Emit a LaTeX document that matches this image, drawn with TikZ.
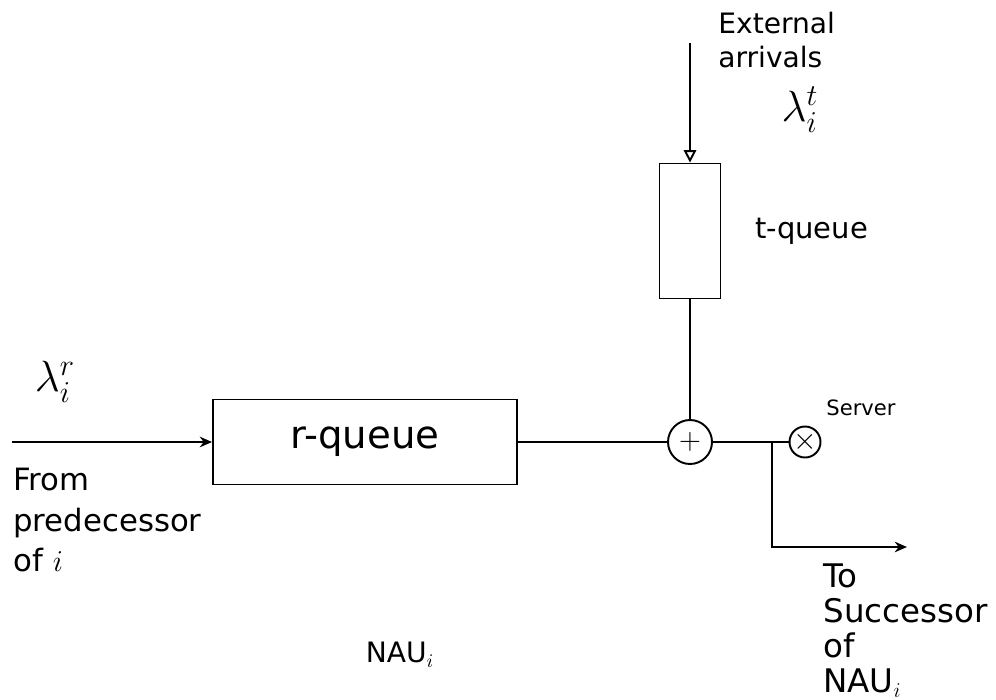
\documentclass[tikz,border=0pt]{standalone}
\usepackage{amsmath}
\usepackage{fontspec}
\setsansfont{DejaVu Sans}
\usepackage{tikz}
\usetikzlibrary{arrows.meta, positioning, calc}

\begin{document}
\begin{tikzpicture}[
        x=0.02cm, y=-0.02cm,
        font=\sffamily\fontsize{17}{20}\selectfont,
        >={Stealth[length=7pt, width=6pt]},
        queue/.style={
            draw,
            line width=1.1pt,
            rectangle,
            inner sep=0pt
        },
        junction/.style={
            draw,
            line width=1.1pt,
            circle,
            inner sep=0pt
        },
        note/.style={
            align=left,
            anchor=north west,
            inner sep=0pt
        },
        rate/.style={
            font=\fontsize{24}{28}\selectfont
        },
        line/.style={draw, line width=1.1pt, -},
        line_arrow/.style={draw, line width=1.1pt, ->},
        open_arrow/.style={draw, line width=1.1pt, -{Triangle[open, length=7pt, width=7pt]}}
    ]

    \useasboundingbox (0,0) rectangle (996,699);

    % Queues
    \node[queue, minimum width=6.08cm, minimum height=1.7cm, font=\sffamily\fontsize{22}{26}\selectfont] (r_queue) at (365,442) {r-queue};
    \node[queue, minimum width=1.22cm, minimum height=2.7cm] (t_queue) at (690,231) {};
    \node[right=0.55cm of t_queue, font=\sffamily\fontsize{16.5}{20}\selectfont] (t_label) {t-queue};

    % Junctions
    \node[junction, minimum size=0.88cm] (merge) at (690,442) {$+$};
    \node[junction, minimum size=0.52cm] (server) at (805,442) {$\times$};
    \node[font=\sffamily\fontsize{12}{14}\selectfont] (server_label) at (861,408) {Server};

    % Free ends
    \coordinate (source) at (12,442);
    \coordinate (external) at (690,43);
    \coordinate (split) at ($(merge.east)!0.78!(server.west)$);
    \coordinate (sink) at (907,547);

    % Connectors
    \draw[line_arrow] (source) -- (r_queue.west);
    \draw[open_arrow] (external) -- (t_queue.north);
    \draw[line] (r_queue.east) -- (merge.west);
    \draw[line] (t_queue.south) -- (merge.north);
    \draw[line] (merge.east) -- (server.west);
    \draw[line_arrow] (split) |- (sink);

    % Labels
    \node[note, font=\sffamily\fontsize{16}{19}\selectfont] (ext_label) at (718,12) {External\\arrivals};
    \node[rate] (rate_t) at (800,110) {$\lambda^t_i$};
    \node[rate] (rate_r) at (55,382) {$\lambda^r_i$};
    \node[note, font=\sffamily\fontsize{17.5}{23}\selectfont] (from_label) at (13,468) {From\\predecessor\\of $i$};
    \node[note, font=\sffamily\fontsize{18.5}{20}\selectfont] (to_label) at (823,563) {To\\Successor\\of\\NAU$_i$};
    \node[font=\sffamily\fontsize{16}{19}\selectfont] (nau_label) at (400,655) {NAU$_i$};

\end{tikzpicture}
\end{document}
